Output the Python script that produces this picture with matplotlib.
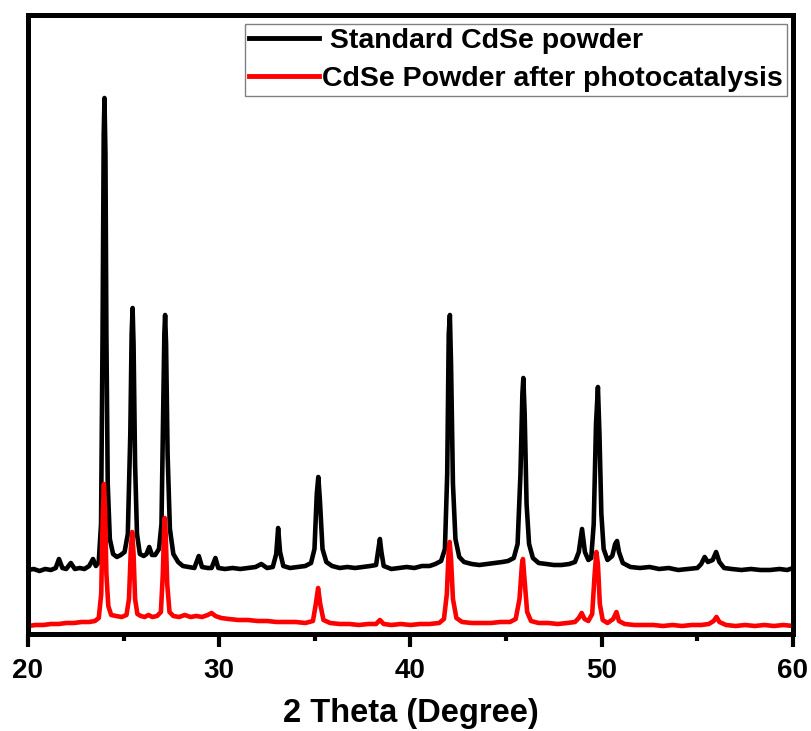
import matplotlib
matplotlib.use("Agg")
import matplotlib.pyplot as plt
from matplotlib.ticker import MultipleLocator

plt.rcParams['font.family'] = ['Liberation Sans', 'DejaVu Sans']
plt.rcParams['font.weight'] = 'bold'

# 2theta (deg) and intensity (a.u., arbitrary offset)
std_x = [20.0, 20.3, 20.6, 20.9, 21.2, 21.45, 21.62, 21.8, 22.0, 22.24, 22.45, 22.7, 22.95, 23.2, 23.4,
         23.55, 23.7, 23.82, 23.9, 23.96, 24.0, 24.05, 24.1, 24.17, 24.28, 24.45, 24.65, 24.85, 25.05,
         25.22, 25.35, 25.42, 25.47, 25.52, 25.6, 25.7, 25.85, 26.05, 26.2, 26.34, 26.48, 26.65, 26.85,
         26.98, 27.07, 27.13, 27.17, 27.22, 27.3, 27.42, 27.6, 27.85, 28.1, 28.4, 28.7, 28.93, 29.1,
         29.4, 29.6, 29.8, 29.95, 30.3, 30.7, 31.1, 31.5, 31.9, 32.2, 32.5, 32.8, 32.98, 33.08, 33.18,
         33.35, 33.7, 34.1, 34.5, 34.8, 34.98, 35.1, 35.18, 35.26, 35.4, 35.6, 35.9, 36.3, 36.7, 37.1,
         37.5, 37.9, 38.2, 38.32, 38.4, 38.48, 38.6, 39.0, 39.4, 39.8, 40.2, 40.6, 41.0, 41.3, 41.6,
         41.8, 41.92, 42.0, 42.06, 42.12, 42.22, 42.35, 42.55, 42.8, 43.2, 43.6, 44.0, 44.4, 44.8, 45.1,
         45.4, 45.6, 45.75, 45.85, 45.9, 45.97, 46.07, 46.2, 46.4, 46.7, 47.1, 47.5, 47.9, 48.3, 48.6,
         48.8, 48.97, 49.12, 49.3, 49.45, 49.58, 49.7, 49.8, 49.88, 49.98, 50.1, 50.3, 50.55, 50.7,
         50.8, 50.9, 51.1, 51.5, 52.0, 52.5, 53.0, 53.5, 54.0, 54.5, 55.0, 55.2, 55.38, 55.55, 55.8,
         55.98, 56.15, 56.4, 56.8, 57.3, 57.8, 58.3, 58.8, 59.3, 59.7, 60.0]
std_y = [64, 65, 63, 65, 64, 66, 75, 66, 65, 71, 65, 66, 65, 68, 75,
         68, 72, 110, 300, 500, 536, 480, 300, 150, 95, 80, 77, 79, 82,
         100, 200, 300, 326, 290, 170, 100, 80, 78, 80, 87, 79, 79, 85,
         110, 220, 300, 319, 290, 180, 105, 80, 72, 68, 67, 66, 78, 67,
         66, 66, 76, 66, 65, 66, 65, 66, 67, 70, 66, 67, 80, 106, 82,
         68, 66, 67, 68, 71, 85, 140, 157, 135, 85, 72, 68, 66, 67, 66,
         67, 68, 69, 85, 95, 82, 68, 65, 66, 67, 66, 68, 68, 70, 73,
         85, 160, 300, 319, 270, 150, 95, 77, 72, 70, 69, 70, 71, 72, 73,
         76, 90, 160, 240, 256, 220, 130, 90, 76, 71, 70, 69, 69, 70, 72,
         82, 105, 82, 74, 76, 110, 210, 247, 200, 120, 85, 74, 78, 90,
         93, 82, 71, 67, 66, 67, 65, 66, 64, 65, 66, 70, 77, 72, 74,
         82, 72, 66, 65, 64, 65, 64, 64, 65, 64, 66]

cat_x = [20.0, 20.4, 20.8, 21.2, 21.6, 22.0, 22.4, 22.8, 23.2, 23.5, 23.7, 23.83, 23.9, 23.97, 24.03,
         24.1, 24.2, 24.35, 24.6, 24.9, 25.15, 25.28, 25.38, 25.45, 25.52, 25.6, 25.72, 25.9, 26.1,
         26.3, 26.5, 26.75, 26.95, 27.05, 27.12, 27.15, 27.2, 27.28, 27.4, 27.6, 27.9, 28.2, 28.5,
         28.8, 29.1, 29.4, 29.6, 29.8, 30.1, 30.5, 31.0, 31.5, 32.0, 32.5, 33.0, 33.5, 34.0, 34.5,
         34.9, 35.05, 35.17, 35.28, 35.45, 35.8, 36.3, 36.8, 37.3, 37.8, 38.2, 38.4, 38.6, 39.0, 39.5,
         40.0, 40.5, 41.0, 41.5, 41.75, 41.9, 42.0, 42.05, 42.12, 42.22, 42.4, 42.7, 43.2, 43.7, 44.2,
         44.7, 45.2, 45.5, 45.7, 45.83, 45.88, 45.96, 46.1, 46.3, 46.7, 47.2, 47.7, 48.2, 48.6, 48.8,
         48.95, 49.1, 49.3, 49.5, 49.63, 49.72, 49.8, 49.9, 50.05, 50.3, 50.6, 50.77, 50.9, 51.2, 51.7,
         52.2, 52.7, 53.2, 53.7, 54.2, 54.7, 55.2, 55.6, 55.85, 56.0, 56.15, 56.5, 57.0, 57.5, 58.0,
         58.5, 59.0, 59.5, 60.0]
cat_y = [8, 9, 9, 10, 10, 11, 11, 12, 12, 13, 16, 40, 110, 150, 125,
         60, 28, 19, 18, 17, 19, 35, 85, 102, 80, 35, 20, 18, 17,
         19, 17, 18, 22, 60, 105, 116, 100, 50, 22, 18, 17, 19, 17,
         18, 17, 19, 21, 18, 16, 15, 14, 14, 13, 13, 12, 12, 12, 11,
         13, 30, 46, 30, 14, 11, 10, 10, 9, 10, 10, 14, 10, 9, 10,
         9, 10, 10, 11, 15, 40, 85, 92, 75, 35, 16, 12, 11, 11, 11,
         12, 12, 15, 35, 70, 75, 55, 22, 13, 11, 11, 10, 11, 12, 16,
         21, 15, 13, 20, 60, 82, 70, 30, 14, 11, 15, 22, 13, 10, 9,
         9, 9, 8, 9, 8, 9, 9, 10, 13, 17, 12, 9, 8, 9, 8,
         9, 8, 9, 8]

labels = [' Standard CdSe powder', 'CdSe Powder after photocatalysis']

fig = plt.figure(figsize=(8.11, 7.31), dpi=100)
ax = fig.add_axes([0.0345, 0.1327, 0.9433, 0.8468])

ax.plot(std_x, std_y, color='black', lw=3.3, solid_joinstyle='round', label=labels[0])
ax.plot(cat_x, cat_y, color='red', lw=3.3, solid_joinstyle='round', label=labels[1])

ax.set_xlim(20, 60)
ax.set_ylim(0, 619)
ax.xaxis.set_major_locator(MultipleLocator(10))
ax.xaxis.set_minor_locator(MultipleLocator(5))
ax.tick_params(axis='x', which='major', direction='out', length=9, width=3, labelsize=20, pad=8)
ax.tick_params(axis='x', which='minor', direction='out', length=5, width=3)
ax.set_yticks([])
for sp in ax.spines.values():
    sp.set_linewidth(3.6)

ax.set_xlabel('2 Theta (Degree)', fontsize=23.5, fontweight='bold', labelpad=10.5)

leg = ax.legend(loc='upper right', bbox_to_anchor=(787 / 811, (731 - 24) / 731),
                bbox_transform=fig.transFigure, borderaxespad=0, fancybox=False,
                frameon=True, edgecolor='#808080', framealpha=1,
                prop={'size': 20.5, 'weight': 'bold'}, handlelength=2.45,
                handletextpad=0.1, borderpad=0.15, labelspacing=0.4)
leg.get_frame().set_linewidth(1)
for ln in leg.get_lines():
    ln.set_linewidth(3.5)

fig.savefig('out.png', dpi=100)
